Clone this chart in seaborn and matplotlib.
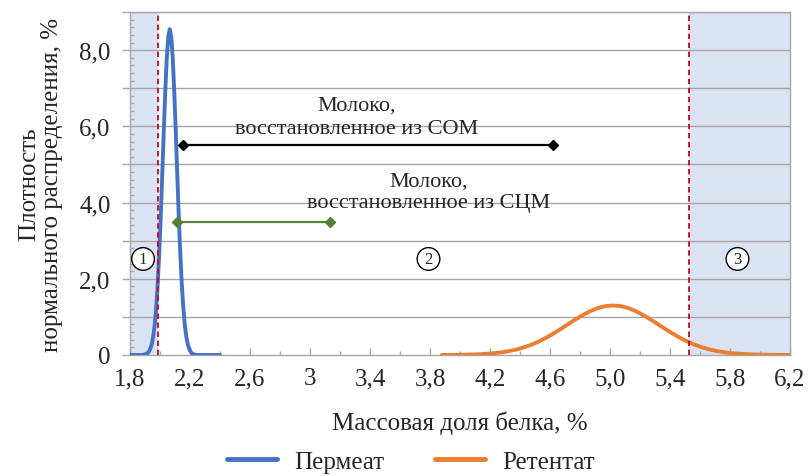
import numpy as np
import pandas as pd
import matplotlib
matplotlib.use("Agg")
import matplotlib.pyplot as plt
import seaborn as sns
from matplotlib.ticker import FixedLocator, MultipleLocator

# ---- data ----
perm_x = [1.80, 1.885, 1.905, 1.915, 1.925, 1.935, 1.945, 1.955, 1.965, 1.975,
          1.985, 1.995, 2.005, 2.015, 2.025, 2.035, 2.045, 2.055, 2.065, 2.075,
          2.085, 2.095, 2.105, 2.115, 2.125, 2.135, 2.145, 2.155, 2.165, 2.175,
          2.185, 2.195, 2.205, 2.215, 2.225, 2.245, 2.40]
perm_y = [0.0, 0.0, 0.02, 0.04, 0.08, 0.16, 0.28, 0.49, 0.80, 1.26,
          1.88, 2.69, 3.65, 4.74, 5.86, 6.91, 7.78, 8.35, 8.55, 8.35,
          7.78, 6.91, 5.86, 4.74, 3.65, 2.69, 1.88, 1.26, 0.80, 0.49,
          0.28, 0.16, 0.08, 0.04, 0.02, 0.0, 0.0]

ret_x = [3.88, 3.92, 4.02, 4.12, 4.22, 4.27, 4.32, 4.37, 4.42, 4.47, 4.52, 4.57,
         4.62, 4.67, 4.72, 4.77, 4.82, 4.87, 4.92, 4.97, 5.02, 5.07, 5.12, 5.17,
         5.22, 5.27, 5.32, 5.37, 5.42, 5.47, 5.52, 5.57, 5.62, 5.67, 5.72, 5.77,
         5.82, 5.92, 6.02, 6.12, 6.20]
ret_y = [0.001, 0.002, 0.0065, 0.018, 0.044, 0.066, 0.097, 0.138, 0.193, 0.261,
         0.345, 0.444, 0.556, 0.679, 0.807, 0.933, 1.051, 1.154, 1.233, 1.283,
         1.30, 1.283, 1.233, 1.154, 1.051, 0.933, 0.807, 0.679, 0.556, 0.444,
         0.345, 0.261, 0.193, 0.138, 0.097, 0.066, 0.044, 0.018, 0.0065, 0.002, 0.001]

series_names = ["Пермеат", "Ретентат"]
limit_low = 1.985
limit_high = 5.53

som_range = [2.15, 4.62]
som_level = 5.5
scm_range = [2.11, 3.13]
scm_level = 3.5

x_ticks = [1.8, 2.2, 2.6, 3.0, 3.4, 3.8, 4.2, 4.6, 5.0, 5.4, 5.8, 6.2]
x_labels = ["1,8", "2,2", "2,6", "3", "3,4", "3,8", "4,2", "4,6", "5,0", "5,4", "5,8", "6,2"]
y_ticks = [0, 1, 2, 3, 4, 5, 6, 7, 8, 9]
y_labels = ["0", "", "2,0", "", "4,0", "", "6,0", "", "8,0", ""]

zones = ["1", "2", "3"]
zone_x = [1.887, 3.79, 5.85]
zone_y = 2.52

df = pd.DataFrame({
    "x": perm_x + ret_x,
    "y": perm_y + ret_y,
    "series": [series_names[0]] * len(perm_x) + [series_names[1]] * len(ret_x),
})

# ---- style ----
sns.set_theme(style="white")
plt.rcParams["font.family"] = ["Liberation Serif", "DejaVu Serif"]

fig = plt.figure(figsize=(8.09, 4.77), dpi=100)
ax = fig.add_axes([0.1607, 0.2537, 0.8158, 0.719])

xmin, xmax, ymin, ymax = 1.8, 6.2, 0, 9
shade = "#DAE3F3"
ax.axvspan(xmin, limit_low, color=shade, zorder=0, lw=0)
ax.axvspan(limit_high, xmax, color=shade, zorder=0, lw=0)

for yv in y_ticks[1:]:
    ax.axhline(yv, color="#A6A6A6", lw=1.0, zorder=1)

sns.lineplot(data=df, x="x", y="y", hue="series", palette=["#4472C4", "#ED7D31"],
             linewidth=2.8, ax=ax, sort=False, estimator=None, zorder=4)

ax.axvline(limit_low, color="#D0021B", lw=1.3, ls=(0, (3, 2)), zorder=5)
ax.axvline(limit_high, color="#D0021B", lw=1.3, ls=(0, (3, 2)), zorder=5)

ax.plot(som_range, [som_level, som_level], color="black", lw=1.6, marker="D",
        markersize=5.5, zorder=6)
ax.plot(scm_range, [scm_level, scm_level], color="#548235", lw=1.6, marker="D",
        markersize=5.5, zorder=6)

ax.text(3.31, 6.25, "Молоко,\nвосстановленное из СОМ", ha="center", va="center",
        fontsize=16, linespacing=1.3, zorder=7)
ax.text(3.79, 4.28, "Молоко,\nвосстановленное из СЦМ", ha="center", va="center",
        fontsize=16, linespacing=1.2, zorder=7)

for lab, zx in zip(zones, zone_x):
    ax.text(zx, zone_y, lab, ha="center", va="center", fontsize=12, zorder=7,
            bbox=dict(boxstyle="circle,pad=0.2", fc="white", ec="black", lw=1.0))

ax.set_xlim(xmin, xmax)
ax.set_ylim(ymin, ymax)
ax.xaxis.set_major_locator(FixedLocator(x_ticks))
ax.set_xticklabels(x_labels)
ax.xaxis.set_minor_locator(MultipleLocator(0.2))
ax.yaxis.set_major_locator(FixedLocator(y_ticks))
ax.set_yticklabels(y_labels)
ax.yaxis.set_minor_locator(MultipleLocator(0.2))

ax.tick_params(axis="x", which="major", direction="in", length=5, width=1,
               color="#A6A6A6", labelsize=18, pad=9, bottom=True)
ax.tick_params(axis="x", which="minor", direction="in", length=3, width=1,
               color="#A6A6A6", bottom=True)
ax.tick_params(axis="y", which="major", direction="out", length=6, width=1,
               color="#A6A6A6", labelsize=18, pad=8, left=True)
ax.tick_params(axis="y", which="minor", direction="in", length=3, width=1,
               color="#A6A6A6", left=True)

for s in ax.spines.values():
    s.set_color("#A6A6A6")
    s.set_linewidth(1.0)
    s.set_visible(True)

ax.set_xlabel("Массовая доля белка, %", fontsize=18, labelpad=15)
ax.set_ylabel("Плотность\nнормального распределения, %", fontsize=18, labelpad=12,
              linespacing=1.0)

handles, labels = ax.get_legend_handles_labels()
if ax.get_legend():
    ax.get_legend().remove()
fig.legend(handles, labels, loc="center", bbox_to_anchor=(0.508, 0.03), ncol=2,
           frameon=False, fontsize=18, handlelength=2.0, columnspacing=2.0,
           handletextpad=0.7)
for line in fig.legends[0].get_lines():
    line.set_linewidth(3.5)

fig.savefig("out.png", dpi=100)
